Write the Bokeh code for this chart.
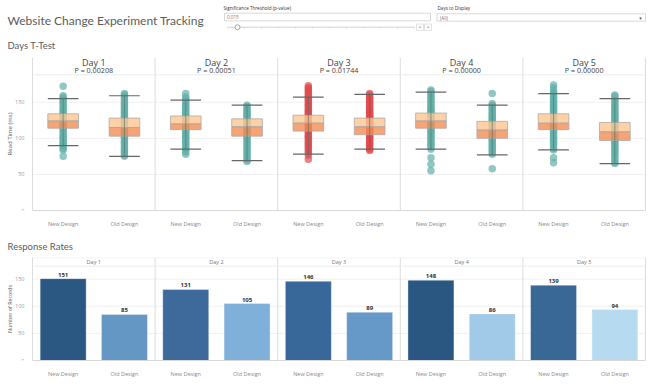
from bokeh.plotting import figure
from bokeh.layouts import column
from bokeh.models import Range1d, FixedTicker
from bokeh.embed import file_html
from bokeh.resources import INLINE
from bokeh.core.properties import value

# ---------------- data ----------------
days = ["Day 1", "Day 2", "Day 3", "Day 4", "Day 5"]
designs = ["New Design", "Old Design"]
p_values = [0.00208, 0.00051, 0.01744, 0.00000, 0.00000]
p_threshold = 0.015

day1_new = [172, 159, 157, 154, 151, 150, 147, 144, 142, 139, 137, 135, 133, 131, 129, 127, 126, 124,
            122, 121, 119, 117, 116, 114, 112, 110, 107, 105, 102, 100, 98, 95, 93, 91, 89, 86, 84, 75]
day1_old = [162, 160, 158, 155, 153, 150, 148, 146, 143, 141, 139, 136, 134, 132, 130, 128, 126, 124,
            122, 120, 118, 116, 115, 113, 111, 109, 107, 105, 103, 101, 99, 96, 94, 92, 89, 87, 84, 82, 80, 77, 75]
day2_new = [162, 157, 155, 152, 150, 147, 145, 142, 140, 138, 135, 133, 131, 129, 127, 125, 123, 121,
            120, 118, 116, 114, 112, 110, 108, 106, 103, 101, 99, 96, 94, 91, 89, 86, 84, 81, 78]
day2_old = [146, 144, 141, 139, 137, 135, 133, 131, 129, 127, 125, 123, 121, 119, 117, 116, 114, 112,
            110, 108, 106, 104, 102, 100, 98, 96, 93, 91, 88, 86, 83, 81, 78, 76, 73, 70, 68]
day3_new = [173, 170, 168, 165, 163, 160, 158, 155, 153, 151, 148, 146, 144, 141, 139, 137, 135, 133,
            131, 129, 127, 125, 123, 121, 120, 118, 116, 114, 112, 110, 108, 105, 103, 101, 98, 96, 93,
            91, 88, 86, 83, 80, 77, 71]
day3_old = [162, 160, 157, 155, 152, 150, 147, 145, 142, 140, 138, 136, 134, 132, 130, 128, 126, 124,
            122, 120, 118, 116, 115, 113, 111, 109, 107, 105, 103, 101, 99, 97, 94, 92, 90, 87, 85, 83]
day4_new = [167, 165, 162, 160, 157, 155, 152, 150, 148, 145, 143, 141, 139, 137, 135, 133, 131, 129,
            127, 125, 124, 122, 120, 118, 116, 114, 112, 110, 108, 106, 103, 101, 98, 96, 93, 91, 88, 85,
            73, 64, 55]
day4_old = [162, 148, 146, 143, 141, 139, 136, 134, 132, 130, 128, 126, 124, 122, 120, 118, 116, 114,
            112, 110, 109, 107, 105, 103, 101, 99, 97, 95, 92, 90, 88, 85, 83, 80, 78, 58]
day5_new = [174, 170, 166, 163, 161, 158, 156, 153, 151, 149, 146, 144, 142, 140, 138, 136, 134, 132,
            130, 128, 126, 124, 123, 121, 119, 117, 115, 113, 111, 109, 107, 104, 102, 99, 97, 94, 92,
            89, 86, 84, 73, 66]
day5_old = [160, 158, 155, 152, 150, 147, 145, 142, 140, 138, 135, 133, 131, 129, 127, 125, 123, 121,
            119, 117, 115, 113, 111, 109, 108, 106, 104, 102, 100, 98, 96, 94, 91, 89, 86, 84, 81, 79,
            76, 73, 70, 67, 65]

# box statistics, ordered Day1 New, Day1 Old, Day2 New, ...
whisker_low = [90, 75, 85, 69, 78, 85, 85, 77, 84, 65]
q1 = [114, 103, 112, 103, 110, 105, 114, 100, 112, 97]
median = [124, 115, 120, 116, 121, 116, 124, 111.5, 121, 109]
q3 = [134, 128, 131, 127, 132, 128, 135, 123.5, 134, 122]
whisker_high = [155, 159, 153, 146, 157, 161, 164, 146, 162, 155]

records_new = [151, 131, 146, 148, 139]
records_old = [85, 105, 89, 86, 94]
bar_colors_new = ["#2b5783", "#3d6a9b", "#386799", "#2a5682", "#396896"]
bar_colors_old = ["#6497c4", "#7eb0da", "#6699c8", "#a0cae8", "#b6dbf1"]

read_ticks = [0, 50, 100, 150]
record_ticks = [0, 50, 100, 150]

# ---------------- style ----------------
TFONT = "Lato"
FONT = "Open Sans"
W = 651
PANEL_LEFT, PANEL_RIGHT = 32, 645
TEAL = "#63afa8"
RED = "#e04a4d"

read_times = [day1_new, day1_old, day2_new, day2_old, day3_new,
              day3_old, day4_new, day4_old, day5_new, day5_old]
ndiv = 2 * len(days)
unit = (PANEL_RIGHT - PANEL_LEFT) / ndiv


def base_fig(h, ymax, top, bottom, ylabel, ylabel_size, ticks):
    f = figure(width=W, height=h,
               x_range=Range1d(-PANEL_LEFT / unit, ndiv + (W - PANEL_RIGHT) / unit),
               y_range=Range1d(0, ymax),
               output_backend="svg", toolbar_location=None,
               min_border_left=0, min_border_right=0,
               min_border_top=top, min_border_bottom=bottom,
               outline_line_color=None, background_fill_color="white",
               border_fill_color="white")
    centers = [g + 0.5 for g in range(ndiv)]
    f.xaxis.ticker = FixedTicker(ticks=centers)
    f.xaxis.major_label_overrides = {c: designs[i % 2] for i, c in enumerate(centers)}
    f.xaxis.major_label_text_font = FONT
    f.xaxis.major_label_text_font_size = "5.5px"
    f.xaxis.major_label_text_color = "#8a8a8a"
    f.xaxis.major_label_standoff = 3
    f.xaxis.major_tick_line_color = None
    f.xaxis.minor_tick_line_color = None
    f.xaxis.axis_line_color = "#d8d8d8"
    f.xaxis.bounds = (0, ndiv)
    f.yaxis.fixed_location = 0
    f.yaxis.ticker = FixedTicker(ticks=ticks)
    f.yaxis.major_label_text_font = FONT
    f.yaxis.major_label_text_font_size = "5.5px"
    f.yaxis.major_label_text_color = "#9a9a9a"
    f.yaxis.major_label_standoff = 2
    f.yaxis.major_tick_line_color = None
    f.yaxis.minor_tick_line_color = None
    f.yaxis.axis_line_color = None
    f.yaxis.axis_label = ylabel
    f.yaxis.axis_label_text_font = FONT
    f.yaxis.axis_label_text_font_size = ylabel_size
    f.yaxis.axis_label_text_font_style = "normal"
    f.yaxis.axis_label_text_color = "#555555"
    f.yaxis.axis_label_standoff = -2
    f.grid.visible = False
    # horizontal grid lines, restricted to the panels
    gt = ticks[1:]
    f.segment(x0=[0] * len(gt), x1=[ndiv] * len(gt), y0=gt, y1=gt,
              line_color="#f0f0f0", line_width=1)
    # panel dividers
    f.segment(x0=list(range(0, ndiv + 1, 2)), x1=list(range(0, ndiv + 1, 2)),
              y0=[0] * (len(days) + 1), y1=[ymax] * (len(days) + 1),
              line_color="#dcdcdc", line_width=1)
    return f


def canvas(h):
    f = figure(width=W, height=h, x_range=Range1d(0, W), y_range=Range1d(h, 0),
               x_axis_type=None, y_axis_type=None,
               output_backend="svg", toolbar_location=None, min_border=0,
               outline_line_color=None)
    f.grid.visible = False
    return f


# ---------------- header ----------------
hdr = canvas(52)
hdr.text(x=[7], y=[20], text=["Website Change Experiment Tracking"], text_font=value(TFONT),
         text_font_size="12px", text_color="#5c5c5c", text_baseline="middle")
hdr.text(x=[7], y=[45], text=["Days T-Test"], text_font=value(TFONT),
         text_font_size="9.5px", text_color="#5c5c5c", text_baseline="middle")
# parameter control
hdr.text(x=[223], y=[7.5], text=["Significance Threshold (p-value)"], text_font=value(FONT),
         text_font_size="4.6px", text_color="#333333", text_baseline="middle")
hdr.quad(left=[224], right=[430], top=[12.7], bottom=[20.3], fill_color="white",
         line_color="#cfcfcf", line_width=0.8)
hdr.text(x=[226.5], y=[16.5], text=[f"{p_threshold:.3f}"], text_font=value(FONT),
         text_font_size="4.6px", text_color="#777777", text_baseline="middle")
hdr.segment(x0=[227], x1=[414], y0=[26.7], y1=[26.7], line_color="#c8c8c8", line_width=0.8)
tick_x = [227, 244, 261, 278, 295, 312, 329, 346, 363, 380, 397, 414]
hdr.segment(x0=tick_x, x1=tick_x, y0=[26.7] * len(tick_x), y1=[28.2] * len(tick_x),
            line_color="#d0d0d0", line_width=0.6)
hdr.scatter(x=[237], y=[26.7], size=5, fill_color="white", line_color="#8f8f8f", line_width=0.8)
hdr.quad(left=[416, 424], right=[423, 431], top=[23.5, 23.5], bottom=[30, 30],
         fill_color="white", line_color="#d0d0d0", line_width=0.6)
hdr.text(x=[419.5, 427.5], y=[26.8, 26.8], text=["<", ">"], text_font=value(FONT),
         text_font_size="5.5px", text_color="#555555", text_align="center", text_baseline="middle")
# days filter
hdr.text(x=[437], y=[7.5], text=["Days to Display"], text_font=value(FONT),
         text_font_size="4.6px", text_color="#333333", text_baseline="middle")
hdr.quad(left=[436.5], right=[645], top=[13.3], bottom=[20.7], fill_color="white",
         line_color="#cfcfcf", line_width=0.8)
hdr.text(x=[439.5], y=[17], text=["(All)"], text_font=value(FONT),
         text_font_size="4.6px", text_color="#777777", text_baseline="middle")
hdr.text(x=[640], y=[17], text=["▾"], text_font=value("DejaVu Sans"),
         text_font_size="5px", text_color="#555555", text_align="center", text_baseline="middle")

# ---------------- box plot chart ----------------
box = base_fig(178, 212, 5, 14, "Read Time (ms)", "6px", read_ticks)
box.segment(x0=[0], x1=[ndiv], y0=[188], y1=[188], line_color="#ececec", line_width=1)

px, py, pc = [], [], []
gx = []
for d, p in enumerate(p_values):
    col = TEAL if p <= p_threshold else RED
    for k in range(2):
        g = 2 * d + k
        gx.append(g + 0.5)
        for v in read_times[g]:
            px.append(g + 0.5)
            py.append(v)
            pc.append(col)
box.scatter(x=px, y=py, size=7.5, fill_color=pc, fill_alpha=0.7, line_color=None)
box.vbar(x=gx, width=0.5, bottom=median, top=q3, fill_color="#ffc690", fill_alpha=0.8,
         line_color="#a9a9a9", line_width=0.8)
box.vbar(x=gx, width=0.5, bottom=q1, top=median, fill_color="#f38d55", fill_alpha=0.8,
         line_color="#a9a9a9", line_width=0.8)
box.segment(x0=gx, x1=gx, y0=whisker_low, y1=whisker_high, line_color="#4f6f6c",
            line_alpha=0.6, line_width=1)
box.segment(x0=[x - 0.25 for x in gx], x1=[x + 0.25 for x in gx], y0=whisker_high,
            y1=whisker_high, line_color="#666666", line_width=1.2)
box.segment(x0=[x - 0.25 for x in gx], x1=[x + 0.25 for x in gx], y0=whisker_low,
            y1=whisker_low, line_color="#666666", line_width=1.2)

dx = [2 * d + 1 for d in range(len(days))]
box.text(x=dx, y=[205.5] * len(days), text=days, text_font=value(FONT), text_font_size="9px",
         text_color="#444444", text_align="center", text_baseline="middle")
box.text(x=dx, y=[194.5] * len(days), text=[f"P = {p:.5f}" for p in p_values],
         text_font=value(FONT), text_font_size="7.2px", text_color="#444444",
         text_align="center", text_baseline="middle")

# ---------------- section title ----------------
rr = canvas(24)
rr.text(x=[7], y=[15.7], text=["Response Rates"], text_font=value(TFONT),
        text_font_size="9.5px", text_color="#5c5c5c", text_baseline="middle")

# ---------------- bar chart ----------------
bar = base_fig(130, 190, 3, 24, "Number of Records", "5.3px", record_ticks)
bar.segment(x0=[0, 0], x1=[ndiv, ndiv], y0=[174, 189.5], y1=[174, 189.5],
            line_color="#ececec", line_width=1)

bx, bv, bcol = [], [], []
for d in range(len(days)):
    bx += [2 * d + 0.5, 2 * d + 1.5]
    bv += [records_new[d], records_old[d]]
    bcol += [bar_colors_new[d], bar_colors_old[d]]
bar.vbar(x=bx, width=0.75, top=bv, bottom=0, fill_color=bcol, line_color="white",
         line_alpha=0.35, line_width=1)
bar.text(x=bx, y=bv, text=[str(v) for v in bv], text_font=value(FONT), text_font_size="6px",
         text_font_style="bold", text_color="#333333", text_align="center",
         text_baseline="bottom", y_offset=-2)
bar.text(x=dx, y=[181.5] * len(days), text=days, text_font=value(FONT), text_font_size="5.5px",
         text_color="#777777", text_align="center", text_baseline="middle")

layout = column(hdr, box, rr, bar, spacing=0)
open("out.html", "w").write(file_html(layout, INLINE))
